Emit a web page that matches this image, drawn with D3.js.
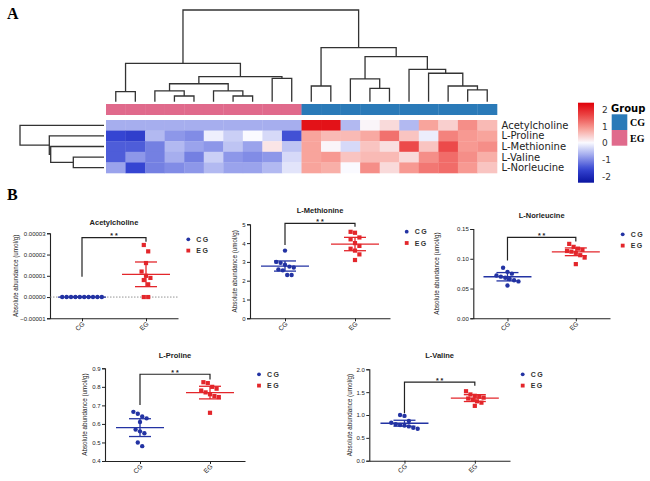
<!DOCTYPE html>
<html>
<head>
<meta charset="utf-8">
<script src="https://cdn.jsdelivr.net/npm/d3@7"></script>
<style>
  body { margin: 0; background: #fff; }
  svg { display: block; }
</style>
</head>
<body>
<svg id="chart" width="650" height="481"></svg>
<script>
// ---- heatmap data (panel A) ----
const heatRows = ['Acetylcholine', 'L-Proline', 'L-Methionine', 'L-Valine', 'L-Norleucine'];
const heatGroups = ['EG', 'EG', 'EG', 'EG', 'EG', 'EG', 'EG', 'EG', 'EG', 'EG',
  'CG', 'CG', 'CG', 'CG', 'CG', 'CG', 'CG', 'CG', 'CG', 'CG'];
const heatValues = [
  [-0.7, -0.7, -0.7, -0.7, -0.7, -0.7, -0.7, -0.7, -0.7, -0.7, 2.2, 2.2, -0.6, 0.05, 0.3, -0.6, 0.8, 0.4, 1.0, 0.6],
  [-1.6, -1.7, -0.6, -0.9, -1.0, -0.1, -0.4, 0.0, -0.3, -1.5, 0.8, 0.6, 0.6, 0.75, 1.25, 0.5, -0.12, 1.1, 0.9, 0.8],
  [-1.4, -1.4, -1.1, -0.6, -0.8, -0.9, -0.5, -0.8, 0.2, -0.5, 0.8, 0.05, -0.3, 0.5, 0.25, 1.6, 0.5, 1.6, 0.9, 1.0],
  [-1.4, -0.9, -1.1, -0.7, -1.1, -0.4, -0.9, -1.0, -0.9, -0.3, 0.8, 0.9, 0.5, 0.6, 0.6, 0.3, 1.0, 1.3, 1.0, 0.7],
  [-0.8, -1.6, -1.1, -1.0, -0.9, -0.6, -0.8, -0.8, -0.6, -0.2, 0.8, 0.7, 0.0, 1.0, 0.3, 0.9, 1.2, 1.3, 0.9, 0.5]
];
// dendrograms: [height, left, right], leaves are column / row indices
const colTree = [10,
  [4.19, [1.09, 0, 1],
    [2.73, [1.96, [1.17, 2, [0.62, 3, 4]], [1.17, 5, [0.62, 6, 7]]], [2.55, 8, 9]]],
  [5.89, [1.71, 10, 11],
    [4.91, [2.48, 12, [1.46, 13, 14]], [3.53, 15, [3.1, 16, [1.71, 17, [1.28, 18, 19]]]]]]];
const rowTree = [84, 0, [54.7, 1, [53.3, 2, [30.7, 3, 4]]]];
const legendTicks = [2, 1, 0, -1, -2];

// ---- scatter data (panel B) ----
const metabolites = ['Acetylcholine', 'L-Methionine', 'L-Norleucine', 'L-Proline', 'L-Valine'];
const groups = ['CG', 'EG'];
const cgValues = [
  [0, 0, 0, 0, 0, 0, 0, 0, 0, 0],
  [3.6, 3.0, 2.95, 2.85, 2.75, 2.7, 2.6, 2.55, 2.3, 2.3],
  [0.085, 0.078, 0.075, 0.072, 0.07, 0.068, 0.066, 0.064, 0.062, 0.055],
  [0.665, 0.655, 0.64, 0.63, 0.61, 0.57, 0.56, 0.55, 0.5, 0.48],
  [1.0, 0.98, 0.87, 0.83, 0.8, 0.78, 0.77, 0.75, 0.72, 0.7]
];
const egValues = [
  [2.45e-5, 2.15e-5, 1.6e-5, 1.2e-5, 1.0e-5, 0.9e-5, 0.8e-5, 0.6e-5, 0, 0],
  [4.6, 4.55, 4.3, 4.2, 4.0, 3.85, 3.7, 3.6, 3.4, 3.1],
  [0.125, 0.12, 0.117, 0.115, 0.113, 0.112, 0.11, 0.106, 0.102, 0.091],
  [0.825, 0.82, 0.8, 0.79, 0.78, 0.77, 0.76, 0.75, 0.745, 0.66],
  [1.52, 1.45, 1.42, 1.4, 1.38, 1.36, 1.33, 1.3, 1.27, 1.2]
];
const cgMean = [0, 2.78, 0.0698, 0.58, 0.82];
const cgErr = [0, 0.27, 0.007, 0.048, 0.065];
const egMean = [1.07e-5, 3.95, 0.1117, 0.769, 1.37];
const egErr = [0.58e-5, 0.355, 0.0065, 0.034, 0.075];
const yTicks = [
  [-0.00001, 0, 0.00001, 0.00002, 0.00003],
  [0, 1, 2, 3, 4, 5],
  [0, 0.05, 0.1, 0.15],
  [0.4, 0.5, 0.6, 0.7, 0.8, 0.9],
  [0, 0.5, 1, 1.5, 2]
];
const tickFormats = ['.5f', 'd', '.2f', '.1f', '.1f'];
const sigBar = [2.8e-5, 5.05, 0.136, 0.868, 1.72];
const sigLegCG = [0.95e-5, 3.9, 0.097, 0.702, 1.04];
const sigLegEG = [2.6e-5, 4.87, 0.129, 0.84, 1.64];

const svg = d3.select('#chart');
const sans = 'Liberation Sans, Arial, sans-serif';
const groupColor = { CG: '#2a7ab8', EG: '#e06a8c' };
const dotColor = { CG: '#2333a3', EG: '#e3262b' };

// panel letters
svg.append('text').attr('x', 7).attr('y', 19).text('A')
  .style('font', 'bold 16px "Liberation Serif", serif');
svg.append('text').attr('x', 7).attr('y', 200).text('B')
  .style('font', 'bold 16px "Liberation Serif", serif');

// ---------- heatmap ----------
const hx = d3.scaleBand().domain(d3.range(heatGroups.length)).range([106, 497]);
const hy = d3.scaleBand().domain(d3.range(heatRows.length)).range([120, 173]);
const heatColor = d3.scaleLinear()
  .domain([-2.4, -1.6, -0.8, 0, 0.8, 1.6, 2.4])
  .range(['#0a14a0', '#3545d2', '#9aa3ec', '#fafaff', '#f8a49c', '#ec4a4a', '#e00008'])
  .clamp(true);

const cells = [];
heatValues.forEach((row, r) => row.forEach((v, c) => cells.push({ r, c, v })));
svg.append('g').selectAll('rect').data(cells).enter().append('rect')
  .attr('x', (d) => hx(d.c))
  .attr('y', (d) => hy(d.r))
  .attr('width', hx.bandwidth() + 0.3)
  .attr('height', hy.bandwidth() + 0.3)
  .attr('fill', (d) => heatColor(d.v));

svg.append('g').selectAll('rect').data(heatGroups).enter().append('rect')
  .attr('x', (d, i) => hx(i))
  .attr('y', 104)
  .attr('width', hx.bandwidth() + 0.3)
  .attr('height', 11)
  .attr('fill', (d) => groupColor[d]);

svg.append('g').selectAll('text').data(heatRows).enter().append('text')
  .attr('x', 501.5)
  .attr('y', (d, i) => hy(i) + hy.bandwidth() / 2 + 3.5)
  .text((d) => d)
  .style('font', '10px "DejaVu Sans", sans-serif')
  .attr('fill', '#222');

// dendrograms
function walk(node, pos, segs) {
  if (typeof node === 'number') return { p: pos(node), h: 0 };
  const a = walk(node[1], pos, segs);
  const b = walk(node[2], pos, segs);
  segs.push({ h: node[0], a, b });
  return { p: (a.p + b.p) / 2, h: node[0] };
}
const colSegs = [];
walk(colTree, (i) => hx(i) + hx.bandwidth() / 2, colSegs);
const colH = d3.scaleLinear().domain([0, 10]).range([101.7, 10]);
svg.append('g').selectAll('path').data(colSegs).enter().append('path')
  .attr('d', (s) => `M${s.a.p},${colH(s.a.h)}V${colH(s.h)}H${s.b.p}V${colH(s.b.h)}`)
  .attr('fill', 'none').attr('stroke', '#333').attr('stroke-width', 1.3);

const rowSegs = [];
walk(rowTree, (i) => hy(i) + hy.bandwidth() / 2, rowSegs);
const rowH = d3.scaleLinear().domain([0, 84]).range([104, 20]);
svg.append('g').selectAll('path').data(rowSegs).enter().append('path')
  .attr('d', (s) => `M${rowH(s.a.h)},${s.a.p}H${rowH(s.h)}V${s.b.p}H${rowH(s.b.h)}`)
  .attr('fill', 'none').attr('stroke', '#333').attr('stroke-width', 1.3);

// colour legend
const ly = d3.scaleLinear().domain([-2.4, 2.4]).range([182.7, 102.7]);
const grad = svg.append('defs').append('linearGradient').attr('id', 'hg')
  .attr('x1', 0).attr('y1', 1).attr('x2', 0).attr('y2', 0);
d3.range(0, 1.0001, 0.05).forEach((t) => {
  grad.append('stop').attr('offset', t).attr('stop-color', heatColor(-2.4 + 4.8 * t));
});
svg.append('rect').attr('x', 578).attr('y', 102.7).attr('width', 16).attr('height', 80)
  .attr('fill', 'url(#hg)');
svg.append('g').selectAll('text').data(legendTicks).enter().append('text')
  .attr('x', 602).attr('y', (d) => ly(d) + 3.5)
  .text((d) => d)
  .style('font', '9px "DejaVu Sans", sans-serif').attr('fill', '#333');

svg.append('text').attr('x', 611).attr('y', 111.5).text('Group')
  .style('font', 'bold 10px "DejaVu Sans", sans-serif');
['CG', 'EG'].forEach((g, i) => {
  svg.append('rect').attr('x', 611.7).attr('y', 114.3 + i * 15.7)
    .attr('width', 15.6).attr('height', 15.7).attr('fill', groupColor[g]);
  svg.append('text').attr('x', 630).attr('y', 126 + i * 15.7).text(g)
    .style('font', 'bold 10px "Liberation Serif", serif');
});

// ---------- scatter panels ----------
const layout = [
  { left: 50, right: 178, top: 233.3, bottom: 318.3, titleY: 224.5, lx: 188.3, ly: 239.3, ytx: 16 },
  { left: 250, right: 390, top: 224.3, bottom: 318.3, titleY: 212.5, lx: 406.7, ly: 231.7, ytx: 235 },
  { left: 473.3, right: 610, top: 229, bottom: 318.3, titleY: 217.5, lx: 622.7, ly: 234.3, ytx: 437 },
  { left: 105, right: 245, top: 368.3, bottom: 461, titleY: 357.5, lx: 259, ly: 374.3, ytx: 85 },
  { left: 369.3, right: 510, top: 369.3, bottom: 460.7, titleY: 357.5, lx: 522.7, ly: 374.3, ytx: 350 }
];

// GraphPad style: points with similar y are spread side by side
function swarm(values, y, d) {
  const sorted = values.map((v) => ({ v, py: y(v) })).sort((a, b) => a.py - b.py);
  const bins = [];
  sorted.forEach((p) => {
    const last = bins[bins.length - 1];
    if (last && p.py - last[0].py < d * 1.5) last.push(p);
    else bins.push([p]);
  });
  const out = [];
  bins.forEach((b) => b.forEach((p, i) => out.push({ v: p.v, py: p.py, dx: (i - (b.length - 1) / 2) * d })));
  return out;
}

metabolites.forEach((name, k) => {
  const L = layout[k];
  const g = svg.append('g');
  const x = d3.scalePoint().domain(groups).range([L.left, L.right]).padding(0.5);
  const y = d3.scaleLinear().domain(d3.extent(yTicks[k])).range([L.bottom, L.top]);

  g.append('text').attr('x', (L.left + L.right) / 2).attr('y', L.titleY).text(name)
    .attr('text-anchor', 'middle').style('font', `bold 7.5px ${sans}`).attr('fill', '#222');

  const yAxis = d3.axisLeft(y).tickValues(yTicks[k]).tickFormat(d3.format(tickFormats[k]))
    .tickSize(3).tickPadding(1.5);
  g.append('g').attr('transform', `translate(${L.left},0)`).call(yAxis)
    .call((a) => a.select('.domain').attr('stroke', '#222').attr('stroke-width', 1.1))
    .call((a) => a.selectAll('line').attr('stroke', '#222'))
    .call((a) => a.selectAll('text').style('font', `6px ${sans}`).attr('fill', '#222'));

  const xAxis = d3.axisBottom(x).tickSize(3).tickSizeOuter(0);
  g.append('g').attr('transform', `translate(0,${L.bottom})`).call(xAxis)
    .call((a) => a.select('.domain').attr('stroke', '#222').attr('stroke-width', 1.1))
    .call((a) => a.selectAll('line').attr('stroke', '#222'))
    .call((a) => a.selectAll('text')
      .attr('text-anchor', 'end').attr('dy', 0).attr('y', 0)
      .attr('transform', 'translate(2.5,6) rotate(-45)')
      .style('font', `6.5px ${sans}`).attr('fill', '#222'));

  g.append('text')
    .attr('transform', `translate(${L.ytx},${(L.top + L.bottom) / 2}) rotate(-90)`)
    .attr('text-anchor', 'middle').attr('dy', 2)
    .text('Absolute abundance (umol/g)')
    .style('font', `6.3px ${sans}`).attr('fill', '#222');

  if (y.domain()[0] < 0) {
    g.append('line').attr('x1', L.left).attr('x2', L.right).attr('y1', y(0)).attr('y2', y(0))
      .attr('stroke', '#777').attr('stroke-width', 0.8).attr('stroke-dasharray', '1.5,1.5');
  }

  // significance bracket
  const xc = x('CG'), xe = x('EG');
  g.append('path')
    .attr('d', `M${xc},${y(sigLegCG[k])}V${y(sigBar[k])}H${xe}V${y(sigLegEG[k])}`)
    .attr('fill', 'none').attr('stroke', '#222').attr('stroke-width', 1.2);
  g.append('text').attr('x', (xc + xe) / 2).attr('y', y(sigBar[k]) + 0.5).text('* *')
    .attr('text-anchor', 'middle').style('font', `bold 7px ${sans}`).attr('fill', '#222');

  const sets = [
    { grp: 'CG', vals: cgValues[k], mean: cgMean[k], err: cgErr[k] },
    { grp: 'EG', vals: egValues[k], mean: egMean[k], err: egErr[k] }
  ];
  sets.forEach((s) => {
    const cx = x(s.grp);
    const col = dotColor[s.grp];
    const pts = swarm(s.vals, y, 4.4);
    if (s.grp === 'CG') {
      g.append('g').selectAll('circle').data(pts).enter().append('circle')
        .attr('cx', (d) => cx + d.dx).attr('cy', (d) => d.py).attr('r', 2.2).attr('fill', col);
    } else {
      g.append('g').selectAll('rect').data(pts).enter().append('rect')
        .attr('x', (d) => cx + d.dx - 2.1).attr('y', (d) => d.py - 2.1)
        .attr('width', 4.2).attr('height', 4.2).attr('fill', col);
    }
    const eb = g.append('g').attr('stroke', col).attr('stroke-width', 1.3).attr('fill', 'none');
    eb.append('line').attr('x1', cx - 24).attr('x2', cx + 24).attr('y1', y(s.mean)).attr('y2', y(s.mean));
    eb.append('line').attr('x1', cx).attr('x2', cx).attr('y1', y(s.mean - s.err)).attr('y2', y(s.mean + s.err));
    [s.mean - s.err, s.mean + s.err].forEach((v) => {
      eb.append('line').attr('x1', cx - 11).attr('x2', cx + 11).attr('y1', y(v)).attr('y2', y(v));
    });
  });

  // legend
  groups.forEach((grp, i) => {
    const yy = L.ly + i * 11.3;
    if (grp === 'CG') {
      g.append('circle').attr('cx', L.lx).attr('cy', yy).attr('r', 1.9).attr('fill', dotColor[grp]);
    } else {
      g.append('rect').attr('x', L.lx - 1.9).attr('y', yy - 1.9).attr('width', 3.8).attr('height', 3.8)
        .attr('fill', dotColor[grp]);
    }
    g.append('text').attr('x', L.lx + 8).attr('y', yy + 2.5).text(grp)
      .style('font', `bold 7px ${sans}`).style('letter-spacing', '1.5px').attr('fill', '#333');
  });
});
</script>
</body>
</html>
